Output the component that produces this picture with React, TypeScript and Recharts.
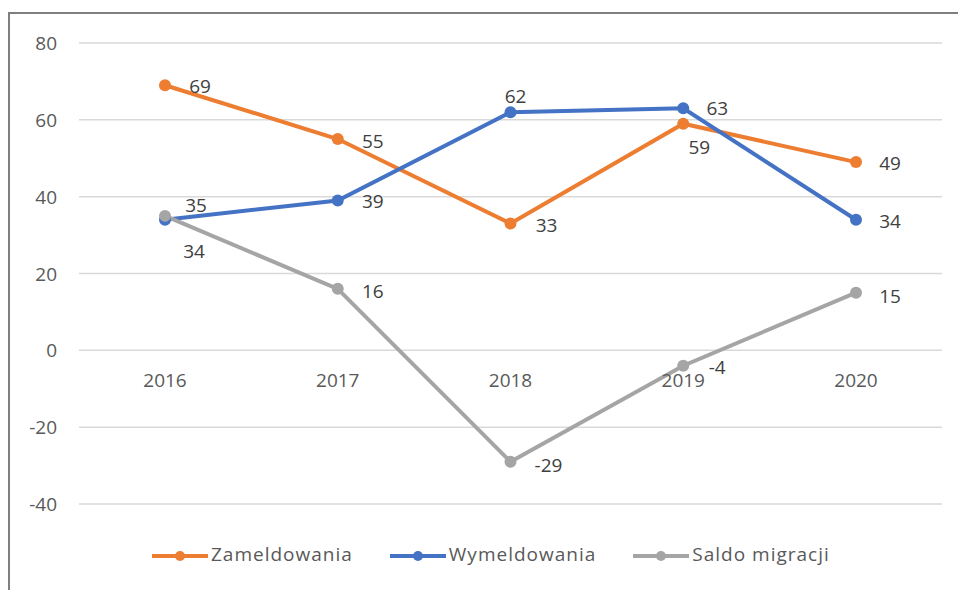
import React from 'react';
import { LineChart, Line, XAxis, YAxis, CartesianGrid, LabelList } from 'recharts';

const years = ['2016', '2017', '2018', '2019', '2020'];
const zameldowania = [69, 55, 33, 59, 49];
const wymeldowania = [34, 39, 62, 63, 34];
const saldoMigracji = [35, 16, -29, -4, 15];
const yTicks = [-40, -20, 0, 20, 40, 60, 80];

// label placement (style only): [dx, dy] from the point
const zamLabelOffsets = [[35, 1], [35, 2], [36, 1], [16, 23], [34, 1]];
const wymLabelOffsets = [[29, 31], [35, 0], [5, -16], [34, 0], [34, 1]];
const saldoLabelOffsets = [[31, -11], [35, 2], [38, 3], [34, 1], [34, 3]];

const data = years.map((year, i) => ({
  year,
  zam: zameldowania[i],
  wym: wymeldowania[i],
  saldo: saldoMigracji[i],
}));

const series = [
  { key: 'zam', name: 'Zameldowania', color: '#ED7D31', offsets: zamLabelOffsets },
  { key: 'wym', name: 'Wymeldowania', color: '#4472C4', offsets: wymLabelOffsets },
  { key: 'saldo', name: 'Saldo migracji', color: '#A5A5A5', offsets: saldoLabelOffsets },
];

const W = 958;
const H = 590;
const M_TOP = 43;
const M_RIGHT = 16;
const M_BOTTOM = 56;
const X_AXIS_H = 30;
const Y_AXIS_W = 79;
const Y_MIN = -40;
const Y_MAX = 80;
const PLOT_H = H - M_TOP - M_BOTTOM - X_AXIS_H;
const ZERO_Y = M_TOP + (PLOT_H * (Y_MAX - 0)) / (Y_MAX - Y_MIN);

const FONT = '"Open Sans", "Liberation Sans", sans-serif';

const makeLabel = (offsets: number[][]) => (props: any) => {
  const { x, y, value, index } = props;
  const [dx, dy] = offsets[index] || [30, 0];
  return (
    <text
      x={Number(x) + dx}
      y={Number(y) + dy}
      textAnchor="middle"
      dominantBaseline="central"
      fill="#404040"
      fontSize={19}
      fontFamily={FONT}
    >
      {value}
    </text>
  );
};

const XTick = (props: any) => {
  const { x, payload } = props;
  return (
    <text
      x={x}
      y={ZERO_Y + 30}
      textAnchor="middle"
      dominantBaseline="central"
      fill="#595959"
      fontSize={19}
      fontFamily={FONT}
    >
      {payload.value}
    </text>
  );
};

const YTick = (props: any) => {
  const { x, y, payload } = props;
  return (
    <text
      x={x}
      y={y}
      textAnchor="end"
      dominantBaseline="central"
      fill="#595959"
      fontSize={19}
      fontFamily={FONT}
    >
      {payload.value}
    </text>
  );
};

export default function App() {
  return (
    <div style={{ position: 'relative', width: W, height: H, overflow: 'hidden', background: '#fff' }}>
      <style>{'body{margin:0}'}</style>
      <div
        style={{
          position: 'absolute',
          left: 8,
          top: 12,
          width: W + 20,
          height: H + 20,
          borderTop: '2px solid #7f7f7f',
          borderLeft: '2px solid #7f7f7f',
          boxSizing: 'border-box',
        }}
      />
      <div style={{ position: 'absolute', left: 0, top: 0 }}>
        <LineChart
          width={W}
          height={H}
          data={data}
          margin={{ top: M_TOP, right: M_RIGHT, bottom: M_BOTTOM, left: 0 }}
        >
          <CartesianGrid vertical={false} stroke="#d9d9d9" strokeWidth={1.5} />
          <XAxis
            dataKey="year"
            height={X_AXIS_H}
            axisLine={false}
            tickLine={false}
            padding={{ left: 86, right: 86 }}
            tick={<XTick />}
            interval={0}
          />
          <YAxis
            width={Y_AXIS_W}
            domain={[Y_MIN, Y_MAX]}
            ticks={yTicks}
            axisLine={false}
            tickLine={false}
            tickSize={0}
            tickMargin={22}
            tick={<YTick />}
          />
          {series.map((s) => (
            <Line
              key={s.key}
              dataKey={s.key}
              name={s.name}
              stroke={s.color}
              strokeWidth={4}
              dot={{ r: 6, fill: s.color, stroke: s.color, strokeWidth: 0 }}
              activeDot={false}
              isAnimationActive={false}
            >
              <LabelList dataKey={s.key} content={makeLabel(s.offsets)} />
            </Line>
          ))}
        </LineChart>
      </div>
      <div
        style={{
          position: 'absolute',
          left: 152,
          top: 540,
          display: 'flex',
          alignItems: 'center',
          gap: 37,
          fontFamily: FONT,
          fontSize: 19,
          letterSpacing: 1,
          color: '#595959',
          height: 28,
        }}
      >
        {series.map((s) => (
          <div key={s.key} style={{ display: 'flex', alignItems: 'center' }}>
            <svg width={56} height={14} style={{ marginRight: 3, marginTop: 4 }}>
              <line x1={0} y1={7} x2={56} y2={7} stroke={s.color} strokeWidth={4} />
              <circle cx={28} cy={7} r={5} fill={s.color} />
            </svg>
            <span>{s.name}</span>
          </div>
        ))}
      </div>
    </div>
  );
}
